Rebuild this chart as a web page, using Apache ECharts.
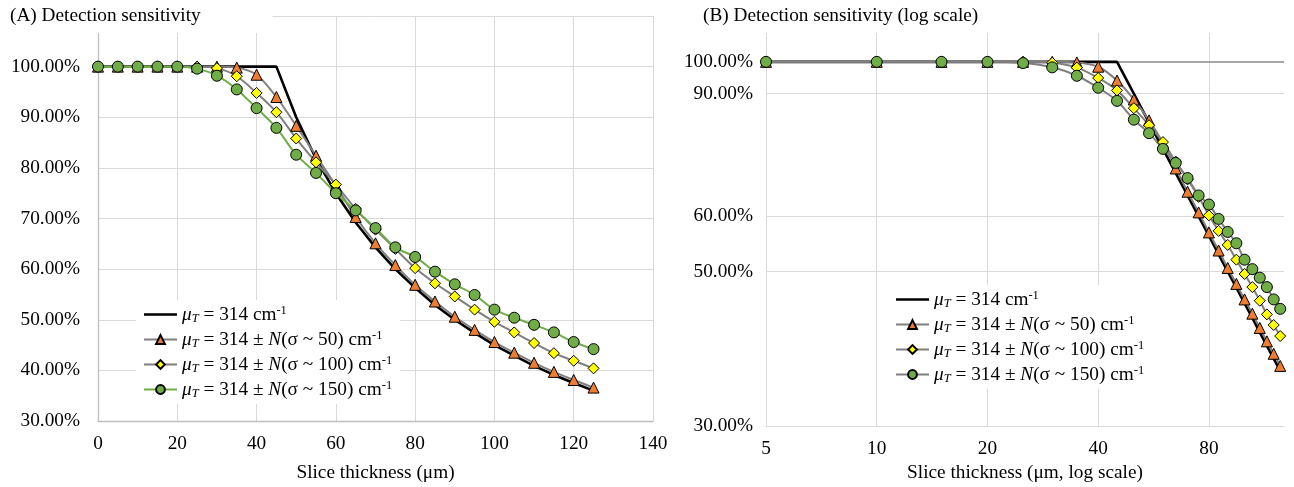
<!DOCTYPE html>
<html><head><meta charset="utf-8">
<script src="https://cdn.jsdelivr.net/npm/echarts@6/dist/echarts.min.js"></script>
<style>html,body{margin:0;padding:0;background:#fff}#c{width:1294px;height:487px}</style>
</head><body><div id="c"></div>
<script>
// ---- data (in %) ----
const thickness = [0,5,10,15,20,25,30,35,40,45,50,55,60,65,70,75,80,85,90,95,100,105,110,115,120,125];
const muT314   = [100,100,100,100,100,100,100,100,100,100,90.0,81.8,75.0,69.2,64.3,60.0,56.3,52.9,50.0,47.4,45.0,42.9,40.9,39.1,37.5,36.0];
const sigma50  = [100,100,100,100,100,100,100,99.8,98.4,94.0,88.3,82.4,76.5,70.3,65.1,60.8,56.9,53.6,50.6,48.0,45.6,43.5,41.5,39.7,38.1,36.6];
const sigma100 = [100,100,100,100,100,100,99.7,98.1,94.8,91.0,85.8,81.1,76.7,71.9,67.8,64.0,60.2,57.2,54.6,52.0,49.6,47.5,45.4,43.4,41.9,40.4];
const sigma150 = [100,100,100,100,100,99.6,98.2,95.5,91.8,87.9,82.6,79.0,75.0,71.6,68.1,64.3,62.4,59.5,57.0,54.9,52.0,50.4,49.0,47.5,45.6,44.2];
const xTicksLog = [5,10,20,40,80];
const yTicksLog = [30,50,60,90,100];
const legendLabels = {
  a0:'{m|μ}{s|T}{t| = 314 cm}{u|-1}',
  a1:'{m|μ}{s|T}{t| = 314 ± }{m|N}{t|(σ ~ 50) cm}{u|-1}',
  a2:'{m|μ}{s|T}{t| = 314 ± }{m|N}{t|(σ ~ 100) cm}{u|-1}',
  a3:'{m|μ}{s|T}{t| = 314 ± }{m|N}{t|(σ ~ 150) cm}{u|-1}'
};

const FONT = 'Liberation Serif';
const FS = 19.3;
function pairs(xs, ys, from){ const out=[]; for(let i=from;i<xs.length;i++) out.push([xs[i], ys[i]]); return out; }
const pct = v => (Math.round(v*100)/100).toFixed(2) + '%';

const rich = {
  t:{fontFamily:FONT,fontSize:FS,color:'#000',lineHeight:21},
  m:{fontFamily:FONT,fontSize:FS,fontStyle:'italic',color:'#000',lineHeight:21},
  s:{fontFamily:FONT,fontSize:12.5,fontStyle:'italic',color:'#000',lineHeight:12,verticalAlign:'bottom'},
  u:{fontFamily:FONT,fontSize:12.5,color:'#000',lineHeight:12,verticalAlign:'top'}
};

const seriesDefs = [
  {key:'0', data:muT314, sym:'none', fill:'#000', lineA:'#000', lineB:'#000', w:2.6, size:0, smooth:false},
  {key:'1', data:sigma50, sym:'triangle', fill:'#ED7D31', lineA:'#7F7F7F', lineB:'#7F7F7F', w:2, size:11, smooth:0.3},
  {key:'2', data:sigma100, sym:'diamond', fill:'#FFFF00', lineA:'#7F7F7F', lineB:'#7F7F7F', w:2, size:11, smooth:0.3},
  {key:'3', data:sigma150, sym:'circle', fill:'#70AD47', lineA:'#70AD47', lineB:'#7F7F7F', w:2, size:11, smooth:0.3}
];

const series = [];
seriesDefs.forEach(d => {
  ['a','b'].forEach((g, gi) => {
    const s = {
      name: g + d.key,
      type:'line',
      xAxisIndex: gi, yAxisIndex: gi,
      data: pairs(thickness, d.data, gi === 0 ? 0 : 1),
      symbol: d.sym, symbolSize: d.size, showSymbol: d.sym !== 'none',
      smooth: d.smooth,
      lineStyle:{color: gi===0 ? d.lineA : d.lineB, width:d.w},
      itemStyle:{color:d.fill, borderColor:'#000', borderWidth: d.sym==='none'?0:1},
      color: d.fill,
      emphasis:{disabled:true},
      z: 3
    };
    if (gi === 1 && d.key === '0') {
      s.markLine = {silent:true, symbol:'none', label:{show:false},
        lineStyle:{color:'#A6A6A6', width:2, type:'solid'}, data:[{yAxis:100}], z:1};
    }
    series.push(s);
  });
});

// plain line icon (no marker) for the unmarked series in the legends
const lineIcon = 'path://M0,0L0.01,0L0.01,0.01Z M0,4.2L33,4.2L33,6.8L0,6.8Z M0,11L0.01,11L0.01,10.99Z';

const axisLabelStyle = {fontFamily:FONT, fontSize:FS, color:'#000'};
const legendCommon = {
  orient:'vertical', itemWidth:33, itemHeight:11, itemGap:4,
  backgroundColor:'#fff',
  textStyle:{fontFamily:FONT, fontSize:FS, color:'#000', rich:rich},
  formatter: n => legendLabels['a'+n.slice(1)], selectedMode:false
};

const option = {
  animation:false,
  backgroundColor:'#fff',
  title:[
    {text:'(A) Detection sensitivity', left:0, top:0, padding:[6,72,7,10], backgroundColor:'#fff',
     textStyle:{fontFamily:FONT,fontSize:FS,fontWeight:'normal',color:'#000',lineHeight:20}, z:10},
    {text:'(B) Detection sensitivity (log scale)', left:693, top:0, padding:[6,10,7,10], backgroundColor:'#fff',
     textStyle:{fontFamily:FONT,fontSize:FS,fontWeight:'normal',color:'#000',lineHeight:20}, z:10}
  ],
  legend:[
    Object.assign({}, legendCommon, {left:136, top:300, padding:[4,8,4,7],
      data:[{name:'a0', icon:lineIcon},'a1','a2','a3']}),
    Object.assign({}, legendCommon, {left:885, top:285, padding:[4,8,4,10],
      data:[{name:'b0', icon:lineIcon},'b1','b2','b3']})
  ],
  grid:[
    {left:98, right:641, top:16, bottom:66},
    {left:766, right:10, top:33, bottom:58}
  ],
  xAxis:[
    {type:'value', gridIndex:0, min:0, max:140, interval:20,
     axisLine:{show:true, lineStyle:{color:'#BFBFBF', width:1.3}}, axisTick:{show:false},
     axisLabel:Object.assign({margin:13}, axisLabelStyle),
     splitLine:{show:true, lineStyle:{color:'#D9D9D9', width:1}},
     name:'Slice thickness (μm)', nameLocation:'middle', nameGap:42, nameTextStyle:axisLabelStyle},
    {type:'log', logBase:2, gridIndex:1, min:5, max:128,
     axisLine:{show:true, lineStyle:{color:'#D9D9D9', width:1}},
     axisTick:{show:false, customValues:xTicksLog},
     axisLabel:Object.assign({margin:13, customValues:xTicksLog, formatter: v => String(Math.round(v))}, axisLabelStyle),
     splitLine:{show:true, lineStyle:{color:'#D9D9D9', width:1}},
     name:'Slice thickness (μm, log scale)', nameLocation:'middle', nameGap:36, nameTextStyle:axisLabelStyle}
  ],
  yAxis:[
    {type:'value', gridIndex:0, min:30, max:110, interval:10,
     axisLine:{show:true, lineStyle:{color:'#BFBFBF', width:1.3}}, axisTick:{show:false},
     axisLabel:Object.assign({margin:18, formatter: v => v > 100.5 ? '' : pct(v)}, axisLabelStyle),
     splitLine:{show:true, lineStyle:{color:'#D9D9D9', width:1}}},
    {type:'log', logBase:10, gridIndex:1, min:30, max:110,
     axisLine:{show:true, lineStyle:{color:'#D9D9D9', width:1}},
     axisTick:{show:false, customValues:yTicksLog},
     axisLabel:Object.assign({margin:13, customValues:yTicksLog, formatter: v => pct(v)}, axisLabelStyle),
     splitLine:{show:true, lineStyle:{color:'#D9D9D9', width:1}}}
  ],
  series: series
};

const chart = echarts.init(document.getElementById('c'), null, {renderer:'canvas'});
chart.setOption(option);
</script>
</body></html>
